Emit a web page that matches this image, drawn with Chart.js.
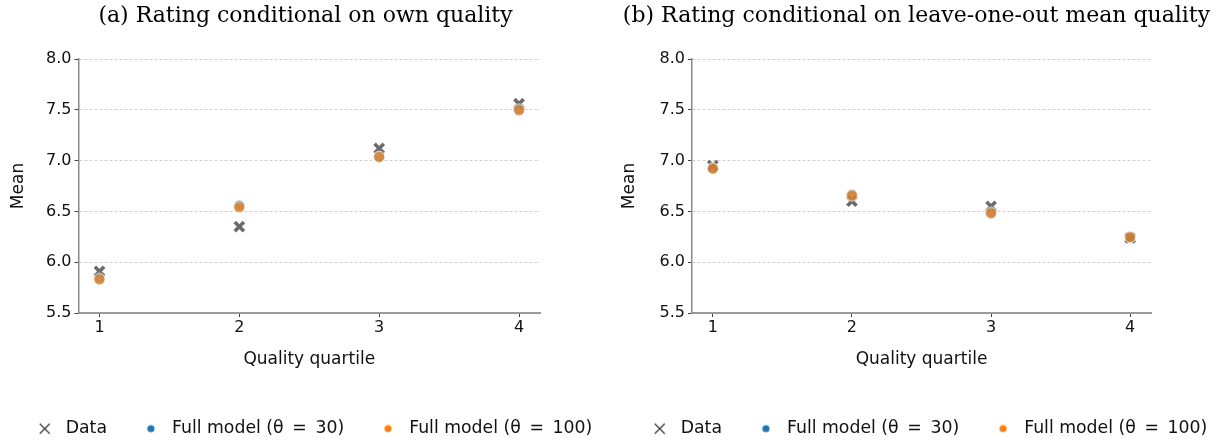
<!DOCTYPE html>
<html>
<head>
<meta charset="utf-8">
<script src="https://cdn.jsdelivr.net/npm/chart.js@4.4.1/dist/chart.umd.min.js"></script>
<style>
    html, body {
        margin: 0;
        padding: 0;
        background: #ffffff;
    }

    #wrap {
        width: 1222px;
        height: 441px;
        display: flex;
    }

    canvas {
        display: block;
    }
</style>
</head>
<body>

<div id="wrap">
    <canvas id="ownChart" width="611" height="441"></canvas>
    <canvas id="looChart" width="611" height="441"></canvas>
</div>

<script>
// ===============================
// DATA
// ===============================

const quartiles = [1, 2, 3, 4];

const yTicks = [5.5, 6.0, 6.5, 7.0, 7.5, 8.0];

// (a) own quality
const ownData = [5.91, 6.35, 7.12, 7.56];
const ownModel30 = [5.84, 6.555, 7.04, 7.505];
const ownModel100 = [5.83, 6.54, 7.035, 7.495];

// (b) leave-one-out mean quality
const looData = [6.95, 6.60, 6.55, 6.24];
const looModel30 = [6.925, 6.665, 6.49, 6.25];
const looModel100 = [6.92, 6.655, 6.48, 6.245];

const titles = [
    "(a) Rating conditional on own quality",
    "(b) Rating conditional on leave-one-out mean quality"
];

const legendLabels = [
    "Data",
    "Full model (\u03b8\u2002=\u200230)",
    "Full model (\u03b8\u2002=\u2002100)"
];

// =================================
// LEGEND ICONS
// (wide images, the mark sits to the right so the
//  gaps around it look like the original legend)
// =================================

const ICON_W = 36;
const ICON_H = 16;
const ICON_CX = 28.8;

function makeCross() {

    const c = document.createElement("canvas");
    c.width = ICON_W;
    c.height = ICON_H;

    const ctx = c.getContext("2d");
    ctx.strokeStyle = "#333333";
    ctx.lineWidth = 1.1;

    const cy = ICON_H / 2;

    ctx.beginPath();
    ctx.moveTo(ICON_CX - 5, cy - 5);
    ctx.lineTo(ICON_CX + 5, cy + 5);
    ctx.moveTo(ICON_CX + 5, cy - 5);
    ctx.lineTo(ICON_CX - 5, cy + 5);
    ctx.stroke();

    return c;
}

function makeDot(color) {

    const c = document.createElement("canvas");
    c.width = ICON_W;
    c.height = ICON_H;

    const ctx = c.getContext("2d");
    ctx.fillStyle = color;

    ctx.beginPath();
    ctx.arc(ICON_CX, ICON_H / 2, 3.6, 0, Math.PI * 2);
    ctx.fill();

    return c;
}

const legendIcons = [
    makeCross(),
    makeDot("#1f77b4"),
    makeDot("#ff7f0e")
];

function toPoints(values) {
    return quartiles.map((q, i) => ({ x: q, y: values[i] }));
}

// =================================
// BUILD ONE PANEL
// =================================

function createPanel(canvasId, title, dataVals, m30, m100, yWidth, legendShift) {

    const canvas = document.getElementById(canvasId);

    // nudge the legend sideways after layout
    const shiftLegend = {
        id: "shiftLegend",
        afterLayout(chart) {
            chart.legend.left += legendShift;
            chart.legend.right += legendShift;
        }
    };

    new Chart(canvas, {

        type: "scatter",

        plugins: [shiftLegend],

        data: {

            datasets: [
                {
                    label: legendLabels[0],
                    data: toPoints(dataVals),
                    pointStyle: "crossRot",
                    pointRadius: 6.5,
                    pointBorderWidth: 3.6,
                    borderColor: "rgba(70,70,70,0.8)",
                    backgroundColor: "rgba(70,70,70,0.8)",
                    order: 3
                },
                {
                    label: legendLabels[1],
                    data: toPoints(m30),
                    pointStyle: "circle",
                    pointRadius: 5.5,
                    pointBorderWidth: 0.8,
                    borderColor: "rgba(255,255,255,0.7)",
                    backgroundColor: "rgba(31,119,180,0.7)",
                    order: 2
                },
                {
                    label: legendLabels[2],
                    data: toPoints(m100),
                    pointStyle: "circle",
                    pointRadius: 5.5,
                    pointBorderWidth: 0.8,
                    borderColor: "rgba(255,255,255,0.7)",
                    backgroundColor: "rgba(255,127,14,0.7)",
                    order: 1
                }
            ]
        },

        options: {

            responsive: false,
            animation: false,
            events: [],

            layout: {
                padding: { left: 0, right: 0, top: 0, bottom: 0 }
            },

            plugins: {

                title: {
                    display: true,
                    text: title,
                    color: "#000000",
                    font: {
                        family: "'DejaVu Serif'",
                        size: 22,
                        weight: "normal"
                    },
                    padding: { top: 3, bottom: 29.6 }
                },

                legend: {
                    position: "bottom",
                    maxHeight: 31,
                    labels: {
                        usePointStyle: true,
                        pointStyleWidth: 46.35,
                        padding: 10,
                        color: "#111111",
                        font: {
                            family: "'DejaVu Sans'",
                            size: 17.3
                        },
                        sort: (a, b) => a.datasetIndex - b.datasetIndex,
                        generateLabels: chart =>
                            chart.data.datasets.map((ds, i) => ({
                                text: ds.label,
                                pointStyle: legendIcons[i],
                                fillStyle: "transparent",
                                strokeStyle: "transparent",
                                lineWidth: 0,
                                fontColor: "#111111",
                                datasetIndex: i,
                                hidden: false
                            }))
                    }
                },

                tooltip: { enabled: false }
            },

            scales: {

                x: {
                    type: "linear",
                    min: 0.85,
                    max: 4.15,
                    afterBuildTicks: scale => {
                        scale.ticks = quartiles.map(v => ({ value: v }));
                    },
                    afterFit: scale => {
                        scale.height = 97;
                    },
                    ticks: {
                        color: "#111111",
                        padding: 1,
                        font: { family: "'DejaVu Sans'", size: 16 },
                        callback: v => String(v)
                    },
                    grid: {
                        display: true,
                        drawOnChartArea: false,
                        drawTicks: true,
                        tickLength: 4,
                        tickColor: "#444444",
                        tickWidth: 1
                    },
                    border: {
                        display: true,
                        color: "#9a9a9a",
                        width: 2
                    },
                    title: {
                        display: true,
                        text: "Quality quartile",
                        color: "#111111",
                        font: { family: "'DejaVu Sans'", size: 17 },
                        padding: { top: 0, bottom: 39.8 }
                    }
                },

                y: {
                    type: "linear",
                    min: 5.5,
                    max: 8.0,
                    afterBuildTicks: scale => {
                        scale.ticks = yTicks.map(v => ({ value: v }));
                    },
                    afterFit: scale => {
                        scale.width = yWidth;
                    },
                    ticks: {
                        color: "#111111",
                        padding: 3,
                        font: { family: "'DejaVu Sans'", size: 16 },
                        callback: v => v.toFixed(1)
                    },
                    grid: {
                        display: true,
                        drawOnChartArea: true,
                        drawTicks: true,
                        tickLength: 4,
                        color: "#c4c4c4",
                        lineWidth: 0.8,
                        tickColor: "#444444",
                        tickWidth: 1,
                        tickBorderDash: []
                    },
                    border: {
                        display: true,
                        color: "#8a8a8a",
                        width: 1.5,
                        dash: [3, 2]
                    },
                    title: {
                        display: true,
                        text: "Mean",
                        color: "#111111",
                        font: { family: "'DejaVu Sans'", size: 17 },
                        padding: { top: 8, bottom: 0 }
                    }
                },

                // empty spacer on the right so the plot ends at x = 540
                spacer: {
                    type: "linear",
                    position: "right",
                    display: true,
                    afterFit: scale => {
                        scale.width = 71;
                    },
                    ticks: { display: false },
                    grid: { display: false },
                    border: { display: false }
                }
            }
        }
    });
}

window.onload = function () {

    createPanel("ownChart", titles[0], ownData, ownModel30, ownModel100, 78.5, -4);

    createPanel("looChart", titles[1], looData, looModel30, looModel100, 81, 0);
};
</script>
</body>
</html>
